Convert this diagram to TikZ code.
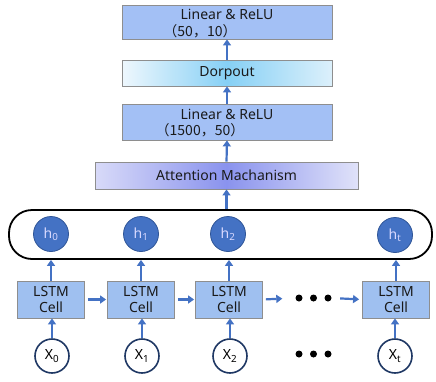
\documentclass[tikz,border=0pt]{standalone}
\usepackage{fontspec}
\setmainfont{Noto Sans}
\newfontfamily\cjk{Noto Sans CJK SC}
\usetikzlibrary{arrows.meta}
\definecolor{arrblue}{HTML}{4472C4}
\definecolor{linfill}{HTML}{A3C0F5}
\definecolor{lstmfill}{HTML}{9FC0F0}
\definecolor{boxborder}{HTML}{8E8E8E}
\definecolor{hfill}{HTML}{4472C4}
\definecolor{hborder}{HTML}{2F5597}
\definecolor{xborder}{HTML}{1F3864}
\definecolor{txt}{HTML}{1A1A1A}
\definecolor{dropL}{HTML}{EEF7FD}
\definecolor{dropM}{HTML}{86D0F5}
\definecolor{dropR}{HTML}{DCF0FB}
\definecolor{attL}{HTML}{D8DAF8}
\definecolor{attM}{HTML}{8A93EE}
\definecolor{attR}{HTML}{E0E2F9}
\begin{document}
\begin{tikzpicture}[x=1pt,y=-1pt,
  arr/.style={draw=arrblue,line width=2.2pt,-{Triangle[length=6pt,width=8pt]}},
  bluebox/.style={draw=boxborder,line width=0.8pt,rectangle,inner sep=0pt},
  linbox/.style={bluebox,fill=linfill,minimum width=210pt},
  lstmbox/.style={bluebox,fill=lstmfill,minimum width=67pt,minimum height=37pt,
    align=center,font=\fontsize{14}{16}\selectfont,text=txt},
  hnode/.style={circle,fill=hfill,draw=hborder,line width=0.8pt,minimum size=35pt,inner sep=0pt,
    text=white!85!blue,font=\fontsize{14}{15}\selectfont},
  xnode/.style={circle,fill=white,draw=xborder,line width=1.6pt,minimum size=34pt,inner sep=0pt,
    text=black,font=\fontsize{14}{15}\selectfont},
  dot/.style={circle,fill=black,minimum size=7pt,inner sep=0pt},
  lbl/.style={text=txt,font=\fontsize{14}{16}\selectfont,inner sep=0pt}
]
\useasboundingbox (0,0) rectangle (436,381);
% top stack
\node[linbox,minimum height=34pt] (lin1) at (227,22) {};
\node[lbl] (lin1a) at (227,14.5) {Linear \& ReLU};
\node[lbl] (lin1b) at (200,31) {\cjk （50，10）};
\node[bluebox,minimum width=210pt,minimum height=26pt,left color=dropL,right color=dropR,middle color=dropM,
  text=txt,font=\fontsize{14}{16}\selectfont] (drop) at (227,73) {Dorpout};
\node[linbox,minimum height=36pt] (lin2) at (227,122) {};
\node[lbl] (lin2a) at (227,114.5) {Linear \& ReLU};
\node[lbl] (lin2b) at (200,130.5) {\cjk （1500，50）};
\node[bluebox,minimum width=263pt,minimum height=27pt,left color=attL,right color=attR,middle color=attM,
  text=txt,font=\fontsize{14}{16}\selectfont] (att) at (226.5,175.5) {Attention Machanism};
% rounded container
\node[draw=black,line width=1.8pt,rounded corners=23pt,minimum width=423pt,minimum height=49pt,inner sep=0pt] (big) at (220.5,234.5) {};
% hidden states
\node[hnode] (h0) at (51,234) {h\textsubscript{0}};
\node[hnode] (h1) at (141,234) {h\textsubscript{1}};
\node[hnode] (h2) at (228,234) {h\textsubscript{2}};
\node[hnode] (ht) at (395,235) {h\textsubscript{t}};
% lstm cells
\node[lstmbox] (c0) at (51,299.5) {LSTM\\Cell};
\node[lstmbox] (c1) at (141,299.5) {LSTM\\Cell};
\node[lstmbox] (c2) at (229,299.5) {LSTM\\Cell};
\node[lstmbox] (ct) at (396,299.5) {LSTM\\Cell};
% dots
\node[dot] (d1) at (299,298) {};
\node[dot] (d2) at (313.5,298) {};
\node[dot] (d3) at (328,298) {};
\node[dot] (e1) at (299,354) {};
\node[dot] (e2) at (313.5,354) {};
\node[dot] (e3) at (328,354) {};
% inputs
\node[xnode] (x0) at (52,356) {X\textsubscript{0}};
\node[xnode] (x1) at (142,356) {X\textsubscript{1}};
\node[xnode] (x2) at (230,356) {X\textsubscript{2}};
\node[xnode] (xt) at (395,356) {X\textsubscript{t}};
% arrows: vertical stack
\draw[arr] (drop.north) -- (lin1.south);
\draw[arr] (lin2.north) -- (drop.south);
\draw[arr] (att.north) -- (lin2.south);
\draw[arr] (att.south |- big.north) -- (att.south);
% lstm to container
\foreach \c in {c0,c1,c2,ct}{
  \draw[arr] (\c.north) -- (\c.north |- big.south);
}
% inputs to lstm
\draw[arr] (x0.north) -- (x0.north |- c0.south);
\draw[arr] (x1.north) -- (x1.north |- c1.south);
\draw[arr] (x2.north) -- (x2.north |- c2.south);
\draw[arr] (xt.north) -- (xt.north |- ct.south);
% horizontal
\draw[arr,shorten <=3pt,shorten >=1pt] (c0.east) -- (c1.west);
\draw[arr,shorten <=3pt,shorten >=1pt] (c1.east) -- (c2.west);
\draw[arr,shorten <=3pt,shorten >=13pt] (c2.east) -- (d1.west);
\draw[arr,shorten <=8.5pt,shorten >=3pt] (d3.east) -- (ct.west);
\end{tikzpicture}
\end{document}
